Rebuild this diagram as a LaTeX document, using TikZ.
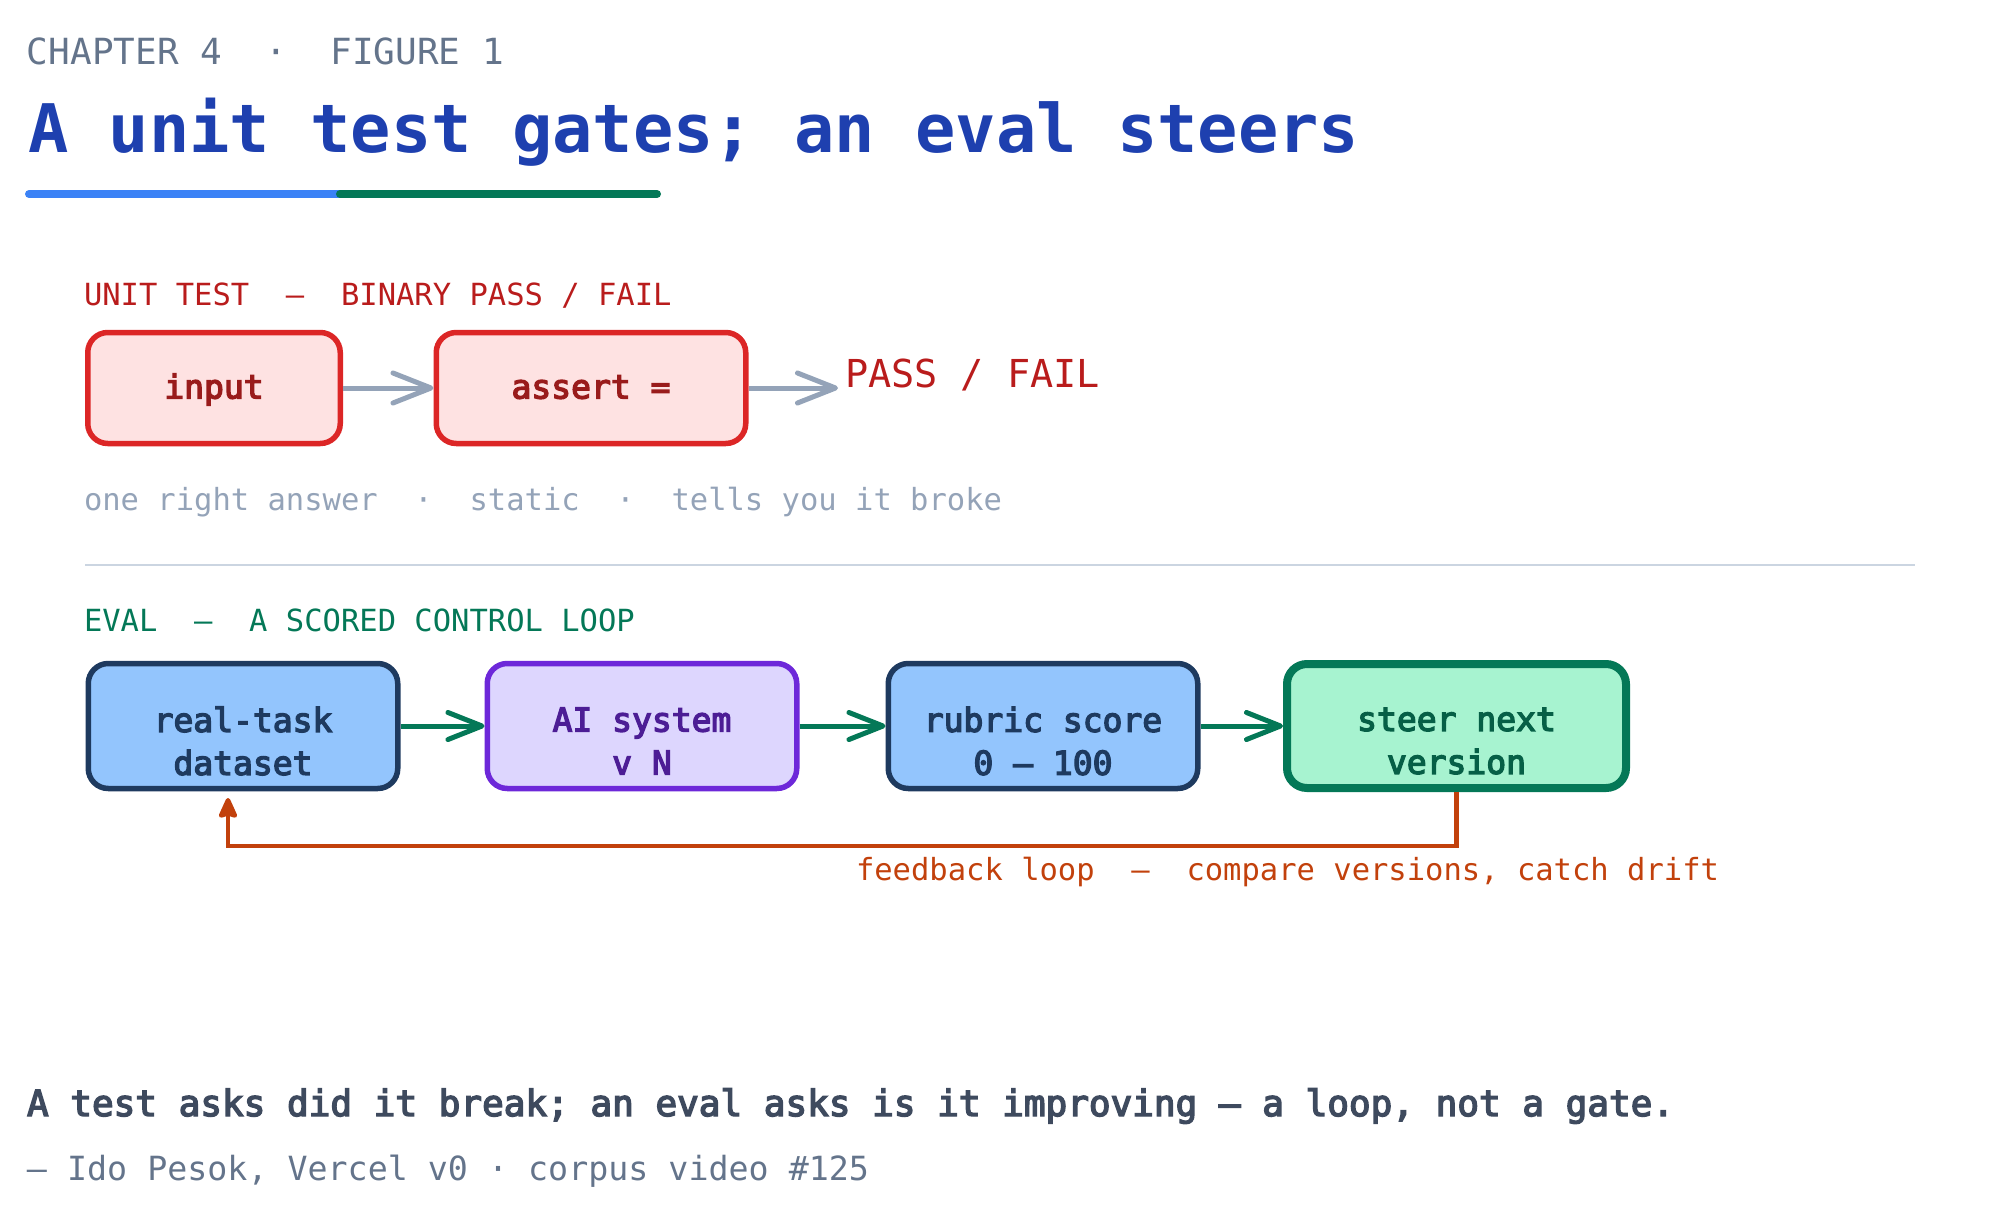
\documentclass[tikz,border=0pt]{standalone}
\usepackage{fontspec}
\setmainfont{DejaVu Sans Mono}
\newfontfamily\medfont[FakeBold=4]{DejaVu Sans Mono}
\usetikzlibrary{arrows.meta}
\definecolor{slatefive}{HTML}{64748B}
\definecolor{slatefour}{HTML}{94A3B8}
\definecolor{slatesev}{HTML}{3E4A5E}
\definecolor{slatethree}{HTML}{CBD5E1}
\definecolor{titleblue}{HTML}{1E40AF}
\definecolor{ulblue}{HTML}{3B82F6}
\definecolor{ulgreen}{HTML}{047857}
\definecolor{redstroke}{HTML}{DC2626}
\definecolor{redfill}{HTML}{FEE2E2}
\definecolor{redtext}{HTML}{991B1B}
\definecolor{redlabel}{HTML}{B91C1C}
\definecolor{navy}{HTML}{1E3A5F}
\definecolor{skyfill}{HTML}{93C5FD}
\definecolor{purstroke}{HTML}{6D28D9}
\definecolor{purfill}{HTML}{DDD6FE}
\definecolor{purtext}{HTML}{4C1D95}
\definecolor{grnstroke}{HTML}{047857}
\definecolor{grnfill}{HTML}{A7F3D0}
\definecolor{grntext}{HTML}{065F46}
\definecolor{fborange}{HTML}{C2410C}
\newcommand\fsz[2]{\fontsize{#1}{#2}\selectfont}
\begin{document}
\begin{tikzpicture}[x=1pt,y=-1pt,
  txt/.style={inner sep=0pt, outer sep=0pt, anchor=base west},
  utbox/.style={draw=redstroke, fill=redfill, line width=5.5pt, rounded corners=20pt,
    minimum height=111pt, inner sep=0pt, text=redtext, font=\medfont\fsz{33}{43},
    text height=29pt, text depth=8pt},
  evbox/.style={line width=5.5pt, rounded corners=20pt, minimum width=309.5pt,
    minimum height=125pt, inner sep=0pt},
  evtext/.style={inner sep=0pt, align=center, font=\medfont\fsz{33}{43}},
  grayarrow/.style={draw=slatefour, line width=5pt, -{Straight Barb[length=38pt,width=30pt,round]}},
  greenarrow/.style={draw=grnstroke, line width=5pt, -{Straight Barb[length=34pt,width=27pt,round]}},
  fbline/.style={draw=fborange, line width=4.5pt, -{Stealth[length=24pt,width=21pt,inset=3pt,round]}},
  divider/.style={draw=slatethree, line width=2.5pt},
  ul/.style={line width=8pt, line cap=round}
]
\useasboundingbox (0,0) rectangle (2000,1223);

% header
\node[txt, text=slatefive, font=\fsz{36}{43}] (chap) at (27,65) {CHAPTER 4~~·~~FIGURE 1};
\node[txt, text=titleblue, font=\fsz{67}{80}\bfseries] (title) at (28,152) {A unit test gates; an eval steers};
\coordinate (ula) at (29,194);
\coordinate (ulb) at (340,194);
\coordinate (ulc) at (657,194);
\draw[ul, draw=ulblue] (ula) -- (ulb);
\draw[ul, draw=ulgreen] (ulb) -- (ulc);

% unit test section
\node[txt, text=redlabel, font=\fsz{30.5}{36}] (utlabel) at (84,305) {UNIT TEST~~—~~BINARY PASS / FAIL};
\node[utbox, minimum width=252.5pt] (input) at (214,388) {input};
\node[utbox, minimum width=309.5pt] (assert) at (591,388) {assert =};
\draw[grayarrow] (input) -- (assert);
\coordinate (pfend) at (838,388);
\draw[grayarrow] (assert) -- (pfend);
\node[txt, text=redlabel, font=\fsz{38.5}{46}] (pf) at (845,387) {PASS / FAIL};
\node[txt, text=slatefour, font=\fsz{30.5}{36}] (utcap) at (84,510) {one right answer~~·~~static~~·~~tells you it broke};

\coordinate (dl) at (85,565);
\coordinate (dr) at (1915,565);
\draw[divider] (dl) -- (dr);

% eval section
\node[txt, text=ulgreen, font=\fsz{30.5}{36}] (evlabel) at (84,631) {EVAL~~—~~A SCORED CONTROL LOOP};
\node[evbox, draw=navy, fill=skyfill] (dataset) at (243,726) {};
\node[evbox, draw=purstroke, fill=purfill] (ai) at (642,726) {};
\node[evbox, draw=navy, fill=skyfill] (rubric) at (1043,726) {};
\node[evbox, draw=grnstroke, fill=grnfill, line width=8pt, minimum width=339pt, minimum height=124pt] (steer) at (1456.5,726) {};
\node[evtext, text=navy] (datasetT) at ([yshift=-15pt]dataset.center) {real-task\\dataset};
\node[evtext, text=purtext] (aiT) at ([yshift=-15pt]ai.center) {AI system\\v N};
\node[evtext, text=navy] (rubricT) at ([yshift=-15pt]rubric.center) {rubric score\\0 — 100};
\node[evtext, text=grntext] (steerT) at ([yshift=-15pt]steer.center) {steer next\\version};
\draw[greenarrow] (dataset) -- (ai);
\draw[greenarrow] (ai) -- (rubric);
\draw[greenarrow] (rubric) -- (steer);

\coordinate (fbrow) at (0,846);
\coordinate (fbend) at (228,798);
\draw[fbline] (steer.south) -- (steer.south |- fbrow) -| (fbend);
\node[txt, text=fborange, font=\fsz{30.5}{36}] (fblabel) at (856,880) {feedback loop~~—~~compare versions, catch drift};

% footer
\node[txt, text=slatesev, font=\medfont\fsz{36}{43}] (quote) at (27,1116) {A test asks did it break; an eval asks is it improving — a loop, not a gate.};
\node[txt, text=slatefive, font=\fsz{33.3}{40}] (attr) at (27,1180) {— Ido Pesok, Vercel v0 · corpus video \#125};
\end{tikzpicture}
\end{document}
